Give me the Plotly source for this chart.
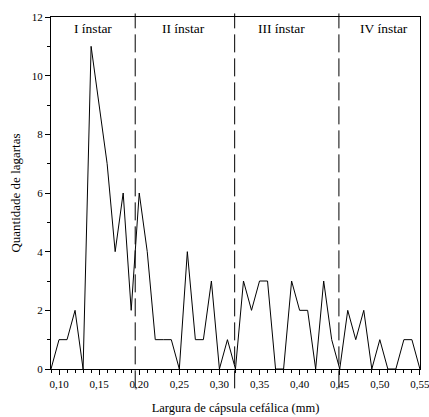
import plotly.graph_objects as go

# Data
widths = [0.09, 0.10, 0.11, 0.12, 0.13, 0.14, 0.15, 0.16, 0.17, 0.18, 0.19,
          0.20, 0.21, 0.22, 0.23, 0.24, 0.25, 0.26, 0.27, 0.28, 0.29, 0.30,
          0.31, 0.32, 0.33, 0.34, 0.35, 0.36, 0.37, 0.38, 0.39, 0.40, 0.41,
          0.42, 0.43, 0.44, 0.45, 0.46, 0.47, 0.48, 0.49, 0.50, 0.51, 0.52,
          0.53, 0.54, 0.55]
counts = [0, 1, 1, 2, 0, 11, 9, 7, 4, 6, 2,
          6, 4, 1, 1, 1, 0, 4, 1, 1, 3, 0,
          1, 0, 3, 2, 3, 3, 0, 0, 3, 2, 2,
          0, 3, 1, 0, 2, 1, 2, 0, 1, 0, 0,
          1, 1, 0]
boundaries = [0.195, 0.319, 0.449]
instar_labels = ["I ínstar", "II ínstar", "III ínstar", "IV ínstar"]
instar_x = [0.1425, 0.255, 0.378, 0.505]
x_ticks = [0.10, 0.15, 0.20, 0.25, 0.30, 0.35, 0.40, 0.45, 0.50, 0.55]
y_ticks = [0, 2, 4, 6, 8, 10, 12]

FONT = "Liberation Serif"

fig = go.Figure()
fig.add_trace(go.Scatter(x=widths, y=counts, mode="lines",
                         line=dict(color="black", width=1), showlegend=False,
                         hoverinfo="skip", cliponaxis=False))

for b in boundaries:
    fig.add_shape(type="line", xref="x", yref="paper", x0=b, x1=b,
                  y0=-0.055, y1=1.01,
                  line=dict(color="black", width=1, dash="18px,6px"))

for lbl, xx in zip(instar_labels, instar_x):
    fig.add_annotation(x=xx, y=0.966, xref="x", yref="paper", text=lbl,
                       showarrow=False, font=dict(family=FONT, size=13.5, color="black"),
                       xanchor="center", yanchor="middle")

fig.update_layout(
    width=429, height=417,
    margin=dict(l=51, r=9, t=17, b=48, autoexpand=False),
    paper_bgcolor="white", plot_bgcolor="white",
    separators=",.",
    font=dict(family=FONT, size=11, color="black"),
    xaxis=dict(range=[0.09, 0.5501], tickvals=x_ticks, automargin=False,
               ticklabeloverflow="allow",
               tickformat=".2f", ticks="outside", ticklen=5, tickwidth=1, tickcolor="black",
               showline=True, linecolor="black", linewidth=1, mirror=True,
               showgrid=False, zeroline=False,
               minor=dict(dtick=0.01, tick0=0.09, ticks="outside", ticklen=3, tickcolor="black", showgrid=False),
               title=dict(text="Largura de cápsula cefálica (mm)", font=dict(family=FONT, size=12.5), standoff=14),
               tickfont=dict(family=FONT, size=11)),
    yaxis=dict(range=[0, 12], tickvals=y_ticks, automargin=False,
               ticks="outside", ticklen=5, tickwidth=1, tickcolor="black",
               showline=True, linecolor="black", linewidth=1, mirror=True,
               showgrid=False, zeroline=False,
               minor=dict(dtick=1, ticks="outside", ticklen=3, tickcolor="black", showgrid=False),
               title=dict(text="Quantidade de lagartas", font=dict(family=FONT, size=13), standoff=8),
               tickfont=dict(family=FONT, size=11)),
)

fig.write_html("out.html", config={"displayModeBar": False},
               post_script="document.body.style.margin='0';document.body.style.overflow='hidden';")
